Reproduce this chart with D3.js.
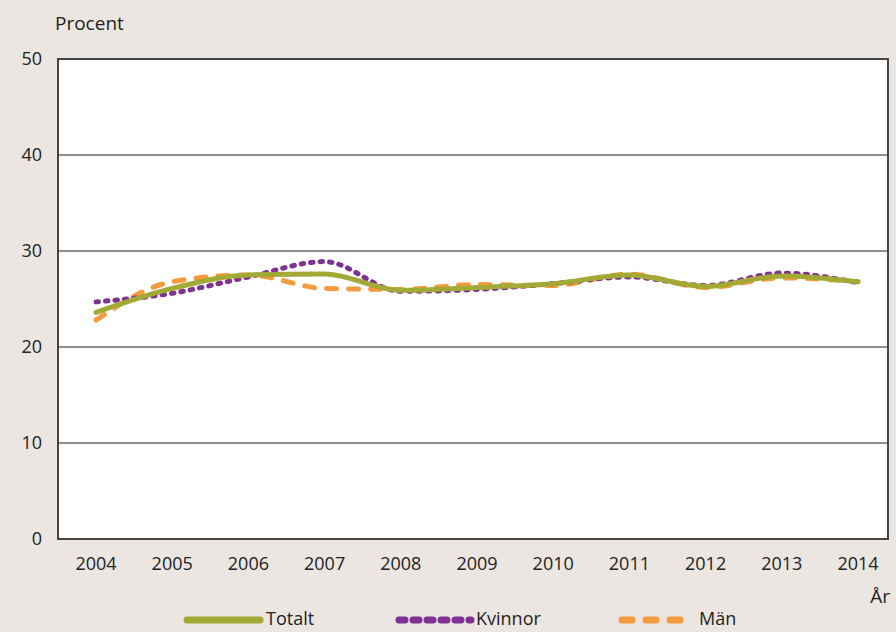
<!DOCTYPE html>
<html><head><meta charset="utf-8">
<script src="https://cdn.jsdelivr.net/npm/d3@7"></script>
<style>
html,body{margin:0;padding:0;background:#ebe6e1;}
svg{display:block;font-family:"Open Sans",sans-serif;}
</style></head>
<body>
<svg id="c" width="896" height="632"></svg>
<script>
const years = [2004,2005,2006,2007,2008,2009,2010,2011,2012,2013,2014];
const totalt  = [23.6,26.1,27.5,27.6,25.9,26.2,26.6,27.5,26.3,27.4,26.8];
const kvinnor = [24.7,25.6,27.3,28.9,25.8,26.0,26.6,27.3,26.4,27.7,26.7];
const man     = [22.8,26.8,27.5,26.1,26.0,26.5,26.4,27.6,26.2,27.2,26.8];
const yTicks = [0,10,20,30,40,50];
const seriesNames = ["Totalt","Kvinnor","Män"];

const svg = d3.select("#c");
const L=58, R=888, T=59, B=539;
const x = d3.scalePoint().domain(years).range([96,858]);
const y = d3.scaleLinear().domain([0,50]).range([B,T]);

svg.append("rect").attr("x",L).attr("y",T).attr("width",R-L).attr("height",B-T)
  .attr("fill","#fff");

// grid
svg.append("g").selectAll("line").data(yTicks).join("line")
  .attr("x1",L).attr("x2",R).attr("y1",d=>y(d)).attr("y2",d=>y(d))
  .attr("stroke","#222").attr("stroke-width",1.2);

svg.append("rect").attr("x",L).attr("y",T).attr("width",R-L).attr("height",B-T)
  .attr("fill","none").attr("stroke","#444").attr("stroke-width",2);

// y labels
svg.append("g").selectAll("text").data(yTicks).join("text")
  .attr("x",42).attr("y",d=>y(d)+6).attr("text-anchor","end")
  .attr("font-size",18).attr("fill","#222").text(d=>d);

svg.append("text").attr("x",55).attr("y",30).attr("font-size",19).attr("fill","#222").text("Procent");

// x labels
svg.append("g").selectAll("text").data(years).join("text")
  .attr("x",d=>x(d)).attr("y",570).attr("text-anchor","middle")
  .attr("font-size",18).attr("fill","#222").text(d=>d);
svg.append("text").attr("x",890).attr("y",603).attr("text-anchor","end")
  .attr("font-size",19).attr("fill","#222").text("År");

const line = d3.line().x((d,i)=>x(years[i])).y(d=>y(d)).curve(d3.curveMonotoneX);

const styles = [
  {data:totalt, color:"#a2aa35", w:5, dash:null, cap:"round"},
  {data:kvinnor, color:"#7e3392", w:5, dash:"2.5,7", cap:"round"},
  {data:man, color:"#f59a3d", w:5, dash:"10,12", cap:"round"}
];
// draw order: Män, Kvinnor, Totalt
[styles[2],styles[1],styles[0]].forEach(s=>{
  svg.append("path").attr("d",line(s.data)).attr("fill","none")
    .attr("stroke",s.color).attr("stroke-width",s.w)
    .attr("stroke-dasharray",s.dash).attr("stroke-linecap",s.cap);
});

// legend
const leg = [{x1:187,x2:260,tx:266},{x1:399,x2:471,tx:476},{x1:622,x2:693,tx:699}];
leg.forEach((p,i)=>{
  const s = styles[i];
  svg.append("line").attr("x1",p.x1).attr("x2",p.x2).attr("y1",620).attr("y2",620)
    .attr("stroke",s.color).attr("stroke-width",7)
    .attr("stroke-dasharray",i==1?"6,8":(i==2?"10,14":null)).attr("stroke-linecap","round");
  svg.append("text").attr("x",p.tx).attr("y",625).attr("font-size",18).attr("fill","#222").text(seriesNames[i]);
});
</script>
</body></html>
